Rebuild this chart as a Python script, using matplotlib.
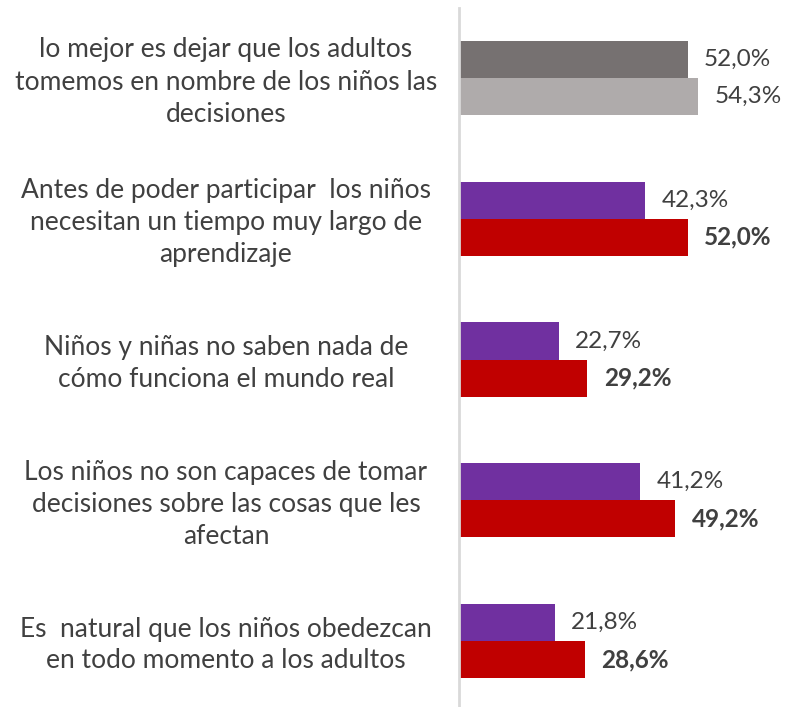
import matplotlib.pyplot as plt
import numpy as np

categories = [
    "lo mejor es dejar que los adultos\ntomemos en nombre de los niños las\ndecisiones",
    "Antes de poder participar  los niños\nnecesitan un tiempo muy largo de\naprendizaje",
    "Niños y niñas no saben nada de\ncómo funciona el mundo real",
    "Los niños no son capaces de tomar\ndecisiones sobre las cosas que les\nafectan",
    "Es  natural que los niños obedezcan\nen todo momento a los adultos",
]
series_a = [52.0, 42.3, 22.7, 41.2, 21.8]
series_b = [54.3, 52.0, 29.2, 49.2, 28.6]
colors_a = ["#767171", "#7030A0", "#7030A0", "#7030A0", "#7030A0"]
colors_b = ["#AFABAB", "#C00000", "#C00000", "#C00000", "#C00000"]
bold_b = [False, True, True, True, True]

plt.rcParams['font.family'] = ['Lato', 'DejaVu Sans']
W, H = 786, 707
fig = plt.figure(figsize=(W/100, H/100), dpi=100)
ax_left = 459 / W
ax_top = 1 - 7.6 / H
ax_bottom = 1 - 711.4 / H
ax = fig.add_axes([ax_left, ax_bottom, 1 - ax_left, ax_top - ax_bottom])

n = len(categories)
y = np.arange(n)
bh = 0.263
ax.barh(y - bh/2, series_a, height=bh, color=colors_a)
ax.barh(y + bh/2, series_b, height=bh, color=colors_b)
ax.set_ylim(n - 0.5, -0.5)
ax.set_xlim(0, (W - 459) / 4.4)

tc = "#404040"
for i in range(n):
    ax.text(series_a[i] + 3.7, y[i] - bh/2, f"{series_a[i]:.1f}%".replace('.', ','),
            va='center', ha='left', fontsize=17.5, color=tc)
    ax.text(series_b[i] + 3.7, y[i] + bh/2, f"{series_b[i]:.1f}%".replace('.', ','),
            va='center', ha='left', fontsize=17.5, color=tc,
            fontweight='bold' if bold_b[i] else 'normal')
    fy = 1 - (78 + i * 140.75 + 4) / H
    fig.text(226 / W, fy, categories[i], ha='center', va='center',
             fontsize=19, color=tc, linespacing=1.35)

for s in ['top', 'right', 'bottom']:
    ax.spines[s].set_visible(False)
ax.spines['left'].set_color('#D9D9D9')
ax.spines['left'].set_linewidth(2)
ax.set_xticks([])
ax.set_yticks([])

fig.savefig('out.png', dpi=100)
